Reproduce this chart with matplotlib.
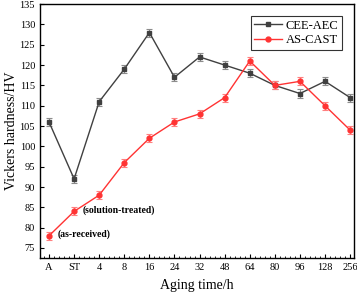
import numpy as np
import matplotlib.pyplot as plt
from matplotlib.ticker import AutoMinorLocator

plt.rcParams['font.family'] = ['Liberation Serif', 'DejaVu Serif']

# aging states along the x axis
labels = ["A", "ST", "4", "8", "16", "24", "32", "48", "64", "80", "96", "128", "256"]

# hardness values (HV)
cee_aec = [106, 92, 111, 119, 128, 117, 122, 120, 118, 115, 113, 116, 112]
as_cast = [78, 84, 88, 96, 102, 106, 108, 112, 121, 115, 116, 110, 104]
cee_err = [1] * 13
cast_err = [1] * 13

x = np.arange(len(labels))

fig = plt.figure(figsize=(3.57, 2.94), dpi=100)
ax = fig.add_axes([0.112, 0.122, 0.880, 0.864])

ax.errorbar(x, cee_aec, yerr=cee_err, color="#404040", marker="s", ms=3.5,
            lw=1.0, ecolor="#8c8c8c", elinewidth=0.8, capsize=2.5, capthick=0.8,
            label="CEE-AEC")
ax.errorbar(x, as_cast, yerr=cast_err, color="#ff3333", marker="o", ms=3.5,
            lw=1.0, ecolor="#ff8080", elinewidth=0.8, capsize=2.5, capthick=0.8,
            label="AS-CAST")

ax.text(x[0] + 0.35, as_cast[0] + 0.3, "(as-received)", fontsize=7,
        fontweight="bold", va="center")
ax.text(x[1] + 0.35, as_cast[1] + 0.3, "(solution-treated)", fontsize=7,
        fontweight="bold", va="center")

ax.set_xlim(-0.36, 12.16)
ax.set_ylim(72.5, 135)
ax.set_xticks(x)
ax.set_xticklabels(labels)
ax.set_yticks(np.arange(75, 136, 5))
ax.xaxis.set_minor_locator(AutoMinorLocator(5))
ax.tick_params(axis="both", direction="in", labelsize=7.5, length=3, width=0.8)
ax.tick_params(axis="x", which="minor", direction="in", length=1.5, width=0.6)
ax.tick_params(axis="x", top=False)
for s in ax.spines.values():
    s.set_linewidth(1.0)

ax.set_xlabel("Aging time/h", fontsize=10, labelpad=5)
ax.set_ylabel("Vickers hardness/HV", fontsize=10, labelpad=1)

handles, lbls = ax.get_legend_handles_labels()
handles = [h[0] for h in handles]
leg = ax.legend(handles, lbls, loc="upper right", bbox_to_anchor=(0.962, 0.953),
                borderaxespad=0, fontsize=9, frameon=True, fancybox=False,
                edgecolor="black", handlelength=2.2, handletextpad=0.3,
                borderpad=0.3, labelspacing=0.2)
leg.get_frame().set_linewidth(0.8)

fig.savefig("out.png", dpi=100)
